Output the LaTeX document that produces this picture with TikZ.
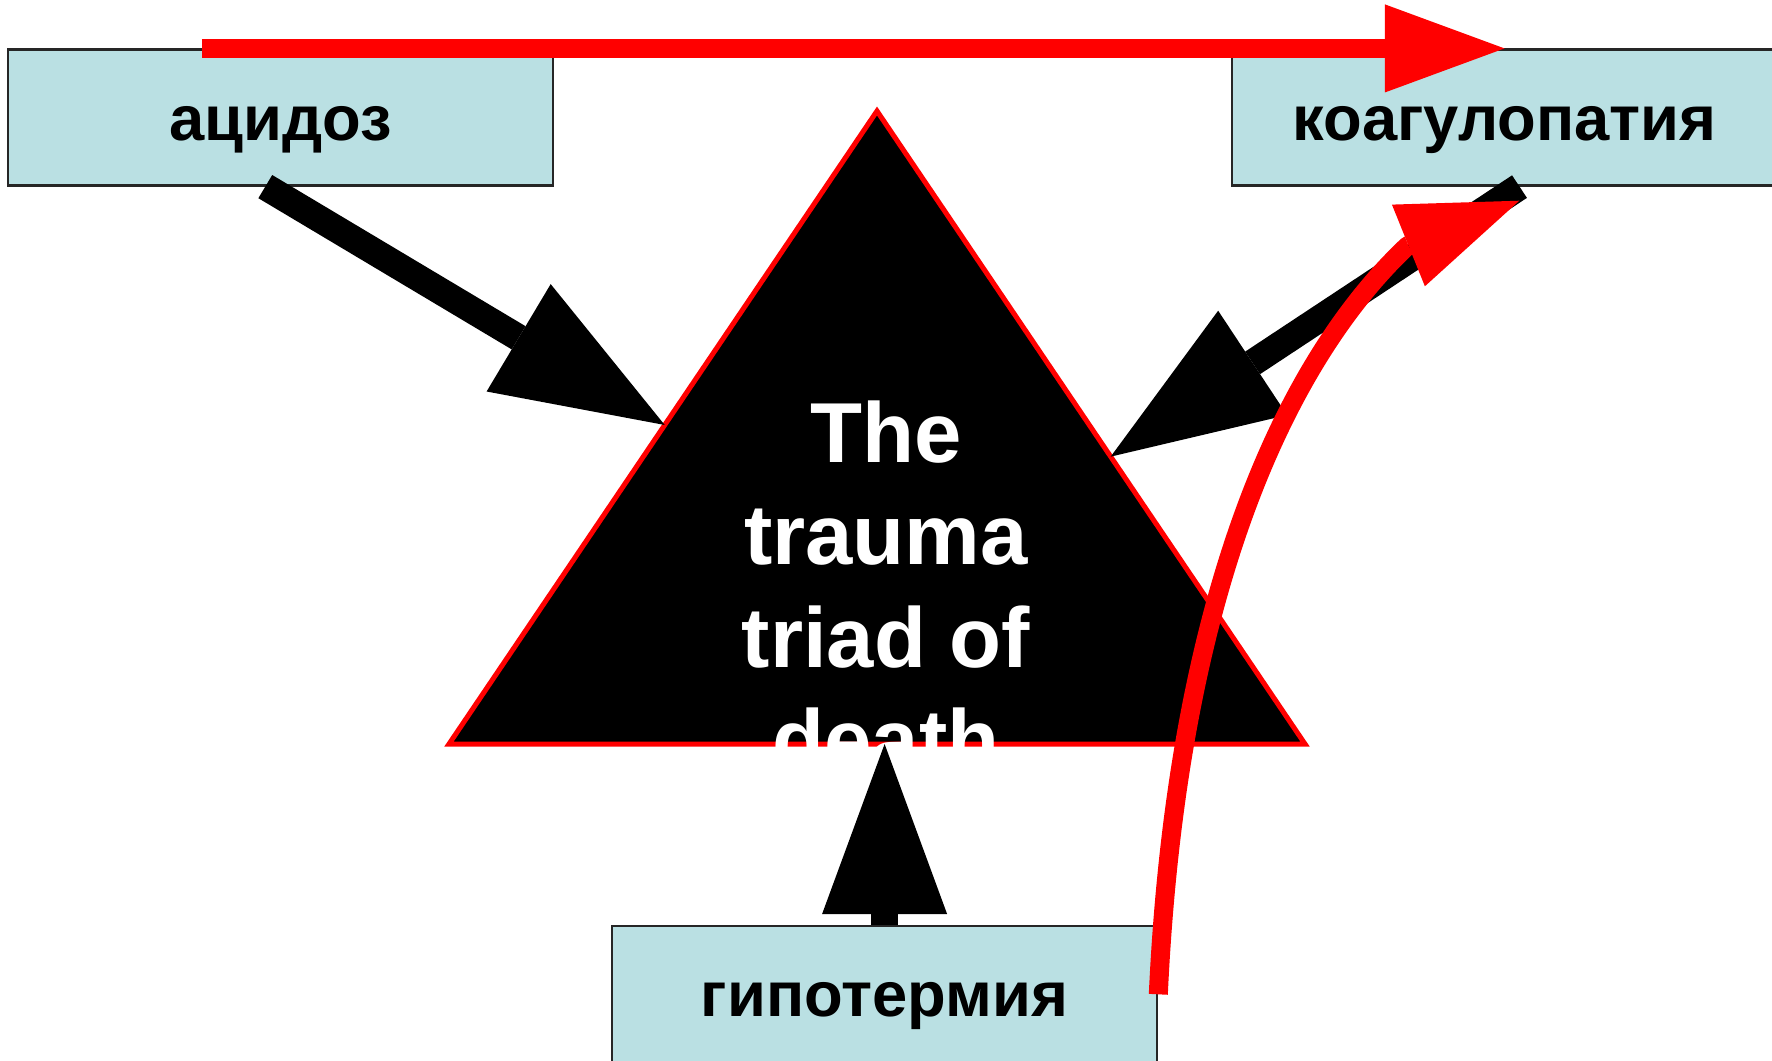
\documentclass[tikz,border=0pt]{standalone}
\usepackage{fontspec}
\setmainfont{Liberation Sans}
\usetikzlibrary{arrows.meta,calc}
\definecolor{boxfill}{RGB}{186,224,227}
\definecolor{pred}{RGB}{255,0,0}
\begin{document}
\begin{tikzpicture}[x=0.01cm,y=-0.01cm,
  lbox/.style={draw=black!85, line width=0.6pt, fill=boxfill,
    minimum width=5.45cm, minimum height=1.36cm, inner sep=0pt,
    font=\fontsize{18}{20}\selectfont\bfseries,
    text height=0.5cm, text depth=0.05cm},
  blackarrow/.style={draw=black, line width=0.27cm,
    -{Triangle[length=1.70cm,width=1.25cm,line width=0pt]}},
  redarrow/.style={draw=pred, line width=0.19cm, line join=round,
    -{Triangle[length=1.195cm,width=0.88cm,line width=0pt]}},
  titletext/.style={text=white, font=\fontsize{24.2}{29.1}\selectfont\bfseries,
    align=center, inner sep=0pt}
  ]
\path[fill=white] (0,0) rectangle (1772,1060);
\useasboundingbox (0,0) rectangle (1772,1060);

% boxes
\node[lbox] (acid) at (280.3,117.5) {ацидоз};
\node[lbox] (coag) at (1504.5,117.5) {коагулопатия};
\node[lbox] (hypo) at (884.6,994.3) {гипотермия};

% triangle
\coordinate (apex) at (877,111);
\coordinate (tbl) at (449,744);
\coordinate (tbr) at (1305,744);
\draw[draw=pred, line width=0.05cm, fill=black] (apex) -- (tbr) -- (tbl) -- cycle;
\node[titletext, anchor=base] (title) at (886,769.6) {The\\trauma\\triad of\\death};

% black arrows
\draw[blackarrow] ($(acid.south)+(-15,0)$) -- ($(tbl)!0.504!(apex)$);
\draw[blackarrow] ($(coag.south)+(15,0)$) -- ($(tbr)!0.454!(apex)$);
\draw[blackarrow] (hypo.north) -- (hypo.north |- tbl);

% red arrows
\draw[redarrow] ($(acid.north west)+(195.4,0)$) -- (coag.north);
\coordinate (cb) at (1407.5,245.8);
\coordinate (ctip) at (1519.3,200.7);
\draw[redarrow] (hypo.east) .. controls (1176,614) and (1276,370) .. (cb) -- (ctip);
\end{tikzpicture}
\end{document}
